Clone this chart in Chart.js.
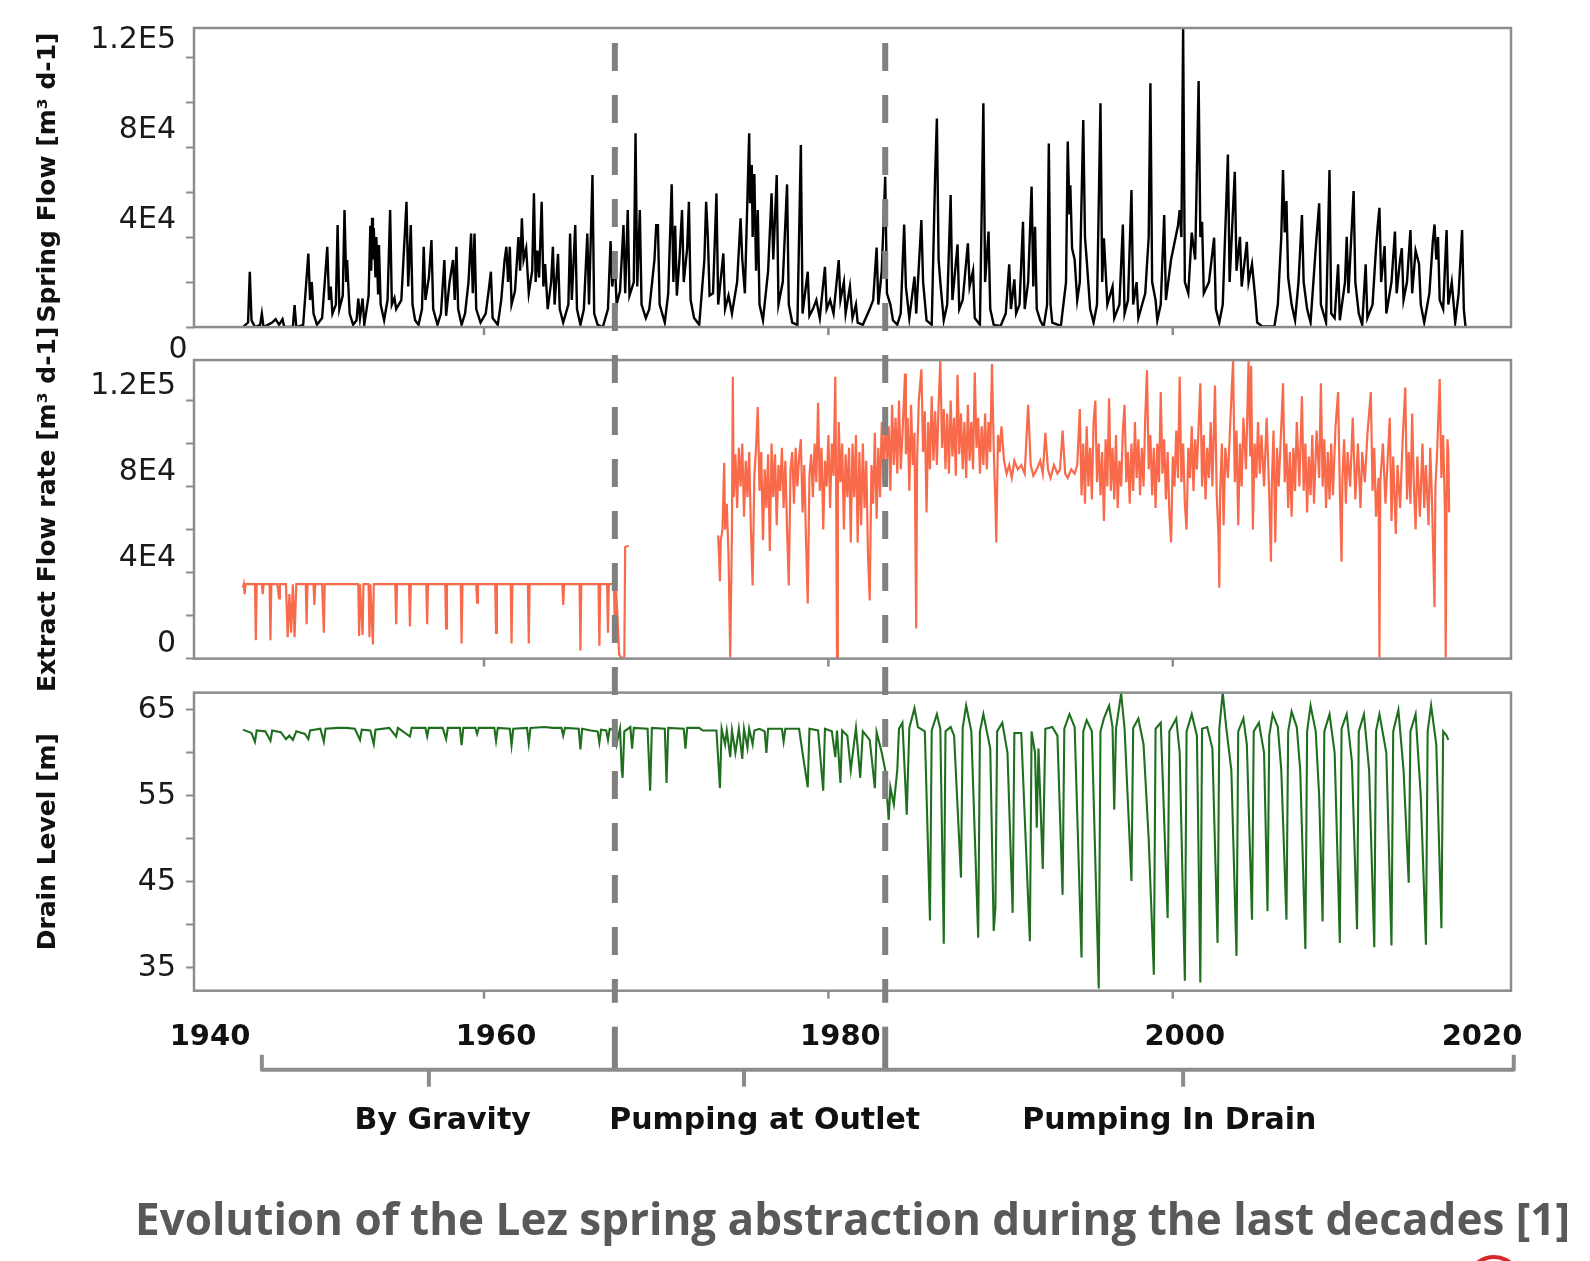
<!DOCTYPE html>
<html>
<head>
<meta charset="utf-8">
<script src="https://cdn.jsdelivr.net/npm/chart.js"></script>
<style>
  html, body { margin: 0; padding: 0; background: #fff; }
  canvas { display: block; }
</style>
</head>
<body>
<canvas id="lezChart" width="1590" height="1261"></canvas>
<script>
// spring flow, [year, thousand m3/d]
const springFlow = [
  [1946.0,0],[1946.3,2],[1946.4,24.6],[1946.5,3],[1946.7,0],[1947.0,1],[1947.1,6],[1947.2,0],[1947.7,2],[1947.9,3.5],
  [1948.1,1],[1948.3,3.5],[1948.4,0],[1948.9,0],[1949.0,9.8],[1949.1,0],[1949.5,1],[1949.8,32.7],[1949.9,12],[1950.0,20],
  [1950.1,6],[1950.3,1],[1950.6,4],[1950.8,25],[1950.9,35.7],[1951.0,12],[1951.1,18],[1951.2,6],[1951.4,10],[1951.5,45.3],
  [1951.6,8],[1951.8,14],[1951.9,52],[1952.0,20],[1952.05,29.8],[1952.2,6],[1952.4,1],[1952.6,3],[1952.7,12.7],[1952.8,4],
  [1952.95,12.7],[1953.05,1],[1953.3,14],[1953.4,45],[1953.45,25],[1953.5,48.6],[1953.55,30],[1953.6,44],[1953.7,22],[1953.75,40],
  [1953.85,15],[1953.9,36.5],[1954.0,10],[1954.2,3],[1954.4,12],[1954.55,52],[1954.65,10],[1954.8,13],[1954.9,8],[1955.2,12],
  [1955.5,55.7],[1955.6,18],[1955.75,45.3],[1955.85,10],[1956.0,3],[1956.2,1],[1956.4,8],[1956.5,35.7],[1956.6,12],[1956.8,22],
  [1956.95,38.7],[1957.05,8],[1957.3,1],[1957.5,6],[1957.7,29.8],[1957.8,5],[1958.0,20],[1958.2,29.8],[1958.3,12],[1958.4,35.7],
  [1958.5,8],[1958.7,1],[1958.9,6],[1959.1,20],[1959.25,41.6],[1959.35,15],[1959.45,41.6],[1959.55,8],[1959.8,2],[1960.1,6],
  [1960.3,18],[1960.4,24.6],[1960.5,4],[1960.8,1],[1961.0,12],[1961.2,30],[1961.3,35.7],[1961.4,20],[1961.5,35.7],[1961.6,10],
  [1961.8,16],[1962.0,40],[1962.1,25],[1962.2,48.3],[1962.3,30],[1962.45,35],[1962.6,15],[1962.8,25],[1962.9,59.4],[1963.0,20],
  [1963.1,34],[1963.2,22],[1963.35,55.7],[1963.45,18],[1963.55,28],[1963.7,8],[1963.9,20],[1964.0,35.7],[1964.1,10],[1964.3,32.5],
  [1964.4,8],[1964.6,2],[1964.9,10],[1965.0,41.6],[1965.1,12],[1965.3,45.3],[1965.4,8],[1965.6,1],[1965.8,8],[1966.0,41.6],
  [1966.1,10],[1966.3,67.6],[1966.4,6],[1966.6,1],[1966.9,0],[1967.2,8],[1967.35,38.2],[1967.45,18],[1967.6,30],[1967.7,10],
  [1967.9,16],[1968.1,45.3],[1968.2,15],[1968.35,52],[1968.45,14],[1968.7,20],[1968.8,86.1],[1968.9,18],[1969.05,52],[1969.15,10],
  [1969.4,4],[1969.6,8],[1969.9,30],[1970.0,45.3],[1970.1,45.3],[1970.2,10],[1970.5,2],[1970.7,15],[1970.9,63.4],[1971.0,20],
  [1971.1,45],[1971.2,14],[1971.35,30],[1971.5,52],[1971.6,20],[1971.8,35],[1971.9,55.7],[1972.0,12],[1972.2,4],[1972.5,1],
  [1972.8,30],[1972.9,55.7],[1973.0,40],[1973.1,14],[1973.3,15],[1973.5,59.4],[1973.6,10],[1973.9,32.7],[1974.0,8],[1974.2,14],
  [1974.4,6],[1974.7,20],[1974.9,48.3],[1975.0,30],[1975.15,15],[1975.4,86.1],[1975.45,55],[1975.55,72],[1975.6,40],[1975.7,68],
  [1975.8,25],[1975.9,52],[1976.0,10],[1976.2,3],[1976.5,25],[1976.7,59.4],[1976.8,30],[1977.0,67.6],[1977.1,10],[1977.35,20],
  [1977.6,63.4],[1977.7,10],[1977.9,2],[1978.2,1],[1978.4,80.9],[1978.5,6],[1978.8,24.6],[1978.9,5],[1979.1,8],[1979.3,12],
  [1979.5,4],[1979.8,26.8],[1979.9,8],[1980.1,12],[1980.3,6],[1980.6,29.8],[1980.7,12],[1980.9,20],[1981.0,6],[1981.25,18],
  [1981.4,4],[1981.6,10],[1981.7,2],[1982.0,1],[1982.4,8],[1982.6,12],[1982.8,35.3],[1982.9,10],[1983.1,25],[1983.3,66.8],
  [1983.4,15],[1983.6,10],[1983.75,3],[1984.0,1],[1984.2,6],[1984.4,45.6],[1984.5,18],[1984.7,4],[1985.0,22.4],[1985.1,6],
  [1985.4,47.6],[1985.5,20],[1985.7,3],[1986.0,1],[1986.2,68],[1986.3,92.7],[1986.4,30],[1986.5,20],[1986.7,3],[1986.9,10],
  [1987.1,58.7],[1987.2,12],[1987.3,20],[1987.5,36.7],[1987.6,8],[1987.8,12],[1988.1,37.2],[1988.2,18],[1988.4,25],[1988.5,4],
  [1988.8,1],[1989.0,99.4],[1989.1,20],[1989.3,42.4],[1989.4,8],[1989.6,1],[1990.0,0.5],[1990.3,6],[1990.5,27.9],[1990.6,8],
  [1990.8,21.2],[1990.9,6],[1991.1,10],[1991.3,46.8],[1991.4,8],[1991.6,20],[1991.8,62.4],[1991.9,18],[1992.0,44.6],[1992.1,8],
  [1992.3,3],[1992.5,0],[1992.7,10],[1992.8,81.6],[1992.9,10],[1993.0,2],[1993.5,0.5],[1993.8,20],[1993.9,82.4],[1994.0,50],
  [1994.05,63],[1994.15,35],[1994.3,30],[1994.45,12],[1994.6,20],[1994.8,92],[1994.9,40],[1995.0,30],[1995.2,8],[1995.4,2],
  [1995.6,10],[1995.8,99.4],[1995.9,20],[1996.0,39.4],[1996.2,10],[1996.5,18],[1996.6,4],[1996.9,10],[1997.1,45.6],[1997.2,6],
  [1997.4,12],[1997.6,60.9],[1997.7,10],[1997.9,20],[1998.0,4],[1998.4,15],[1998.6,40],[1998.7,108.3],[1998.8,20],[1999.0,12],
  [1999.1,3],[1999.3,10],[1999.5,49.8],[1999.6,12],[1999.9,30],[2000.3,45],[2000.4,52],[2000.5,40],[2000.6,132.7],[2000.7,20],
  [2000.9,15],[2001.1,42],[2001.3,30],[2001.5,109.3],[2001.6,40],[2001.7,46.8],[2001.8,15],[2002.1,20],[2002.4,39.7],[2002.5,8],
  [2002.7,2],[2002.9,10],[2003.2,76.7],[2003.3,20],[2003.6,69],[2003.7,25],[2003.9,40.1],[2004.0,18],[2004.3,37.9],[2004.4,20],
  [2004.6,28],[2004.8,12],[2004.9,2],[2005.2,0.3],[2005.9,0.3],[2006.1,10],[2006.3,40],[2006.4,69.8],[2006.5,42],[2006.6,56],
  [2006.7,22],[2006.9,10],[2007.1,3],[2007.3,20],[2007.5,49.8],[2007.6,20],[2007.8,8],[2008.0,2],[2008.3,35],[2008.5,55],
  [2008.6,10],[2008.9,2],[2009.1,69.8],[2009.2,6],[2009.4,4],[2009.6,27.9],[2009.7,3],[2010.0,20],[2010.1,40.1],[2010.2,15],
  [2010.5,60.4],[2010.6,20],[2010.8,6],[2011.0,1],[2011.2,27.9],[2011.3,4],[2011.6,10],[2011.8,35],[2011.9,45],[2012.0,53],
  [2012.1,20],[2012.3,36],[2012.4,6],[2012.7,20],[2012.9,42.4],[2013.0,15],[2013.2,30],[2013.3,35],[2013.4,12],[2013.6,20],
  [2013.8,43.1],[2013.9,15],[2014.1,34],[2014.2,31],[2014.3,28],[2014.4,10],[2014.6,2],[2014.9,15],[2015.1,38],[2015.2,45.6],
  [2015.3,30],[2015.4,40],[2015.5,12],[2015.7,8],[2015.9,43.1],[2016.0,10],[2016.2,20],[2016.4,2],[2016.6,15],[2016.8,43.1],
  [2016.9,8],[2017.0,0]
];

// extracted flow rate, [year, thousand m3/d]
const extractFlow = [
  [1946.0,33],[1946.05,34.6],[1946.1,30],[1946.15,34.6],[1946.7,34.6],[1946.75,8.5],[1946.8,34.6],[1947.1,34.6],[1947.15,30],[1947.2,34.6],
  [1947.55,34.6],[1947.6,8.5],[1947.65,34.6],[1948.0,34.6],[1948.1,28],[1948.15,34.6],[1948.5,34.6],[1948.6,10],[1948.7,30],[1948.8,12],
  [1948.9,34.6],[1949.0,10],[1949.1,34.6],[1949.65,34.6],[1949.7,16],[1949.75,34.6],[1950.1,34.6],[1950.15,25],[1950.2,34.6],[1950.6,34.6],
  [1950.7,12],[1950.75,34.6],[1952.7,34.6],[1952.75,10.5],[1952.8,34.6],[1952.95,11],[1953.0,34.6],[1953.3,34.6],[1953.35,10],[1953.4,34.6],
  [1953.55,6.6],[1953.6,34.6],[1954.85,34.6],[1954.9,16],[1954.95,34.6],[1955.65,34.6],[1955.7,15],[1955.75,34.6],[1956.65,34.6],[1956.7,16],
  [1956.75,34.6],[1957.75,34.6],[1957.8,14],[1957.85,34.6],[1958.65,34.6],[1958.7,7],[1958.75,34.6],[1959.55,34.6],[1959.6,26],[1959.65,34.6],
  [1960.65,34.6],[1960.7,12],[1960.75,34.6],[1961.55,34.6],[1961.6,7],[1961.65,34.6],[1962.55,34.6],[1962.6,7],[1962.65,34.6],[1964.55,34.6],
  [1964.6,25],[1964.65,34.6],[1965.55,34.6],[1965.6,3.8],[1965.65,34.6],[1966.65,34.6],[1966.7,6],[1966.75,34.6],[1967.15,34.6],[1967.2,12],
  [1967.25,34.6],[1967.55,34.6],[1967.6,10],[1967.65,34.6],[1967.75,20],[1967.85,2],[1968.0,0],[1968.15,1],[1968.2,51.9],[1968.4,52.5],
  [1971.0,null],
  [1973.6,57.3],[1973.65,48],[1973.7,36],[1973.75,55],[1973.85,60],[1973.95,91],[1974.0,60],[1974.1,72],[1974.2,48],[1974.3,0.5],
  [1974.4,60],[1974.45,131],[1974.5,75],[1974.6,95],[1974.7,70],[1974.8,98],[1974.9,80],[1975.0,100],[1975.1,66],[1975.2,92],
  [1975.3,75],[1975.4,96],[1975.5,60],[1975.6,34],[1975.7,85],[1975.8,98],[1975.9,117],[1976.0,78],[1976.1,96],[1976.2,55],
  [1976.3,88],[1976.4,70],[1976.5,95],[1976.6,50],[1976.7,100],[1976.8,75],[1976.9,95],[1977.0,62],[1977.1,90],[1977.2,78],
  [1977.3,98],[1977.4,70],[1977.5,92],[1977.6,60],[1977.7,34],[1977.8,88],[1977.9,96],[1978.0,72],[1978.1,98],[1978.2,80],
  [1978.3,94],[1978.4,102],[1978.5,68],[1978.6,90],[1978.7,55],[1978.8,25.6],[1978.9,85],[1979.0,95],[1979.1,75],[1979.2,100],
  [1979.3,82],[1979.4,119],[1979.5,78],[1979.6,98],[1979.7,60],[1979.8,92],[1979.9,80],[1980.0,104],[1980.1,70],[1980.2,100],
  [1980.3,85],[1980.4,131],[1980.45,80],[1980.5,0.5],[1980.55,75],[1980.6,110],[1980.7,82],[1980.8,100],[1980.9,60],[1981.0,95],
  [1981.1,75],[1981.2,98],[1981.3,54],[1981.4,100],[1981.5,75],[1981.6,104],[1981.7,54],[1981.8,96],[1981.9,62],[1982.0,100],
  [1982.1,70],[1982.2,92],[1982.3,48],[1982.4,27],[1982.5,90],[1982.6,72],[1982.7,105],[1982.8,65],[1982.9,98],[1983.0,75],
  [1983.1,110],[1983.2,82],[1983.3,114],[1983.4,92],[1983.5,108],[1983.6,78],[1983.7,118],[1983.8,90],[1983.9,112],[1984.0,86],
  [1984.1,120],[1984.2,88],[1984.3,104],[1984.45,132.5],[1984.5,95],[1984.6,112],[1984.7,78],[1984.8,118],[1984.9,90],[1985.0,105],
  [1985.1,14],[1985.15,92],[1985.25,120],[1985.4,134.5],[1985.5,96],[1985.6,115],[1985.7,68],[1985.8,110],[1985.9,88],[1986.0,122],
  [1986.1,92],[1986.2,115],[1986.3,90],[1986.4,118],[1986.5,138.7],[1986.6,98],[1986.7,116],[1986.8,88],[1986.9,114],[1987.0,86],
  [1987.1,120],[1987.2,94],[1987.3,112],[1987.4,85],[1987.5,132],[1987.6,95],[1987.7,114],[1987.8,88],[1987.9,110],[1988.0,84],
  [1988.1,118],[1988.2,92],[1988.3,110],[1988.4,88],[1988.5,133],[1988.6,98],[1988.7,112],[1988.8,86],[1988.9,108],[1989.0,90],
  [1989.1,114],[1989.2,88],[1989.3,110],[1989.4,96],[1989.5,137],[1989.6,98],[1989.7,72],[1989.75,54],[1989.85,104],[1989.95,96],
  [1990.05,108],[1990.2,92],[1990.35,86],[1990.5,90],[1990.65,84],[1990.8,92],[1991.0,88],[1991.2,90],[1991.4,86],[1991.6,118],
  [1991.75,90],[1991.9,85],[1992.1,88],[1992.3,92],[1992.45,86],[1992.6,105],[1992.75,88],[1992.9,84],[1993.1,90],[1993.3,86],
  [1993.45,88],[1993.6,106],[1993.75,86],[1993.9,84],[1994.1,88],[1994.3,86],[1994.45,90],[1994.6,116],[1994.7,76],[1994.8,100],
  [1994.9,72],[1995.0,108],[1995.1,80],[1995.2,98],[1995.3,74],[1995.4,110],[1995.5,120],[1995.6,82],[1995.7,100],[1995.8,76],
  [1995.9,96],[1996.0,64],[1996.1,102],[1996.2,80],[1996.3,121],[1996.4,78],[1996.5,98],[1996.6,74],[1996.7,104],[1996.8,70],
  [1996.9,92],[1997.0,80],[1997.1,106],[1997.2,118],[1997.3,82],[1997.4,96],[1997.5,72],[1997.6,100],[1997.7,78],[1997.8,110],
  [1997.9,84],[1998.0,102],[1998.1,76],[1998.2,98],[1998.3,80],[1998.4,112],[1998.5,134],[1998.6,88],[1998.7,104],[1998.8,76],
  [1998.9,98],[1999.0,70],[1999.1,100],[1999.2,82],[1999.3,124],[1999.4,86],[1999.5,102],[1999.6,74],[1999.7,96],[1999.8,68],
  [1999.9,54],[2000.0,94],[2000.1,80],[2000.2,106],[2000.3,84],[2000.4,131],[2000.5,82],[2000.6,100],[2000.7,72],[2000.8,60],
  [2000.9,98],[2001.0,84],[2001.1,108],[2001.2,78],[2001.3,102],[2001.4,88],[2001.6,128],[2001.7,80],[2001.8,104],[2001.9,74],
  [2002.0,98],[2002.1,84],[2002.2,110],[2002.3,80],[2002.45,127],[2002.55,76],[2002.65,58],[2002.7,33],[2002.75,78],[2002.85,100],
  [2002.95,62],[2003.05,98],[2003.2,84],[2003.35,112],[2003.5,138.7],[2003.6,82],[2003.7,106],[2003.8,62],[2003.9,100],[2004.0,80],
  [2004.1,112],[2004.25,88],[2004.4,138.3],[2004.5,94],[2004.55,136],[2004.65,60],[2004.75,100],[2004.85,84],[2004.95,110],[2005.05,86],
  [2005.15,104],[2005.3,80],[2005.45,112],[2005.6,76],[2005.7,45],[2005.75,80],[2005.85,106],[2005.95,54],[2006.05,98],[2006.15,80],
  [2006.3,108],[2006.4,128],[2006.5,82],[2006.6,100],[2006.7,70],[2006.8,96],[2006.9,66],[2007.0,98],[2007.1,78],[2007.2,110],
  [2007.35,80],[2007.5,122],[2007.6,78],[2007.7,100],[2007.8,68],[2007.9,94],[2008.0,76],[2008.1,104],[2008.2,72],[2008.35,106],
  [2008.5,84],[2008.6,128],[2008.7,80],[2008.8,102],[2008.9,70],[2009.0,96],[2009.1,74],[2009.2,100],[2009.3,76],[2009.45,108],
  [2009.6,124],[2009.7,78],[2009.8,45],[2009.85,84],[2009.95,102],[2010.05,72],[2010.15,96],[2010.3,80],[2010.45,112],[2010.6,74],
  [2010.75,100],[2010.9,70],[2011.0,96],[2011.15,82],[2011.3,104],[2011.5,124],[2011.6,78],[2011.7,98],[2011.8,66],[2011.95,84],
  [2012.0,0.5],[2012.05,82],[2012.2,100],[2012.35,72],[2012.5,96],[2012.6,112],[2012.7,64],[2012.8,94],[2012.95,58],[2013.05,90],
  [2013.2,70],[2013.35,102],[2013.5,126],[2013.6,74],[2013.7,96],[2013.8,72],[2013.9,114],[2014.0,80],[2014.1,60],[2014.2,94],
  [2014.35,66],[2014.5,100],[2014.6,70],[2014.7,90],[2014.85,62],[2014.95,98],[2015.05,74],[2015.2,24],[2015.25,80],[2015.35,96],
  [2015.5,130],[2015.6,84],[2015.7,104],[2015.8,70],[2015.85,0.5],[2015.9,72],[2015.95,102],[2016.0,96],[2016.05,68]
];

// drain level, [year, m]
const drainLevel = [
  [1946.0,62.7],[1946.5,62.3],[1946.7,61.3],[1946.8,62.6],[1947.3,62.5],[1947.6,61.4],[1947.7,62.6],[1948.2,62.4],[1948.5,61.6],[1948.7,62.0],
  [1948.9,61.5],[1949.1,62.5],[1949.6,62.2],[1949.8,61.6],[1949.9,62.6],[1950.5,62.8],[1950.7,61.3],[1950.8,62.8],[1951.5,62.9],[1952.0,62.9],
  [1952.5,62.8],[1952.8,61.5],[1952.9,62.7],[1953.4,62.6],[1953.6,61.0],[1953.7,62.7],[1954.5,62.9],[1954.9,61.9],[1955.0,62.9],[1955.7,61.9],
  [1955.8,62.9],[1956.6,62.9],[1956.7,61.9],[1956.8,62.9],[1957.6,62.9],[1957.8,61.6],[1957.9,62.9],[1958.6,62.9],[1958.7,60.9],[1958.8,62.9],
  [1959.5,62.9],[1959.6,62.2],[1959.7,62.9],[1960.6,62.9],[1960.7,61.4],[1960.8,62.9],[1961.5,62.8],[1961.6,60.9],[1961.7,62.8],[1962.5,62.9],
  [1962.6,61.1],[1962.7,62.9],[1963.5,63.0],[1964.0,62.9],[1964.5,62.9],[1964.6,62.0],[1964.7,62.9],[1965.5,62.8],[1965.6,60.4],[1965.7,62.8],
  [1966.2,62.6],[1966.6,62.5],[1966.7,61.2],[1966.8,62.7],[1967.1,62.6],[1967.2,61.5],[1967.3,62.8],[1967.6,62.6],[1967.7,61.0],[1967.9,62.8],
  [1968.0,58.0],[1968.05,57.1],[1968.15,62.5],[1968.5,63.0],[1968.6,60.5],[1968.7,62.9],[1969.5,62.8],[1969.65,55.6],[1969.75,62.9],[1970.5,62.8],
  [1970.6,56.5],[1970.7,62.9],[1971.6,62.8],[1971.7,60.5],[1971.8,62.9],[1972.5,62.9],[1972.7,62.6],[1973.5,62.6],[1973.7,55.9],[1973.8,62.8],
  [1974.0,61.0],[1974.1,62.6],[1974.3,59.5],[1974.4,62.6],[1974.6,60.0],[1974.8,62.8],[1975.0,59.3],[1975.1,62.8],[1975.3,60.6],[1975.4,62.8],
  [1975.6,61.0],[1975.7,62.6],[1976.0,62.8],[1976.3,62.5],[1976.4,60.0],[1976.5,62.8],[1977.3,62.8],[1977.4,61.3],[1977.5,62.8],[1978.3,62.8],
  [1978.5,60.0],[1978.8,56.0],[1978.9,62.8],[1979.4,62.6],[1979.7,55.6],[1979.8,62.8],[1980.2,62.5],[1980.4,59.5],[1980.5,62.6],[1980.7,56.5],
  [1980.8,62.6],[1981.1,62.0],[1981.3,58.0],[1981.6,62.9],[1981.85,57.1],[1982.0,62.5],[1982.4,61.5],[1982.7,55.9],[1982.8,62.4],[1983.1,60.0],
  [1983.3,58.0],[1983.5,52.2],[1983.6,56.0],[1983.8,54.0],[1984.0,58.0],[1984.1,62.8],[1984.3,63.5],[1984.5,55.0],[1984.55,52.8],[1984.7,62.9],
  [1985.0,65.2],[1985.2,63.0],[1985.6,62.5],[1985.9,40.5],[1986.0,62.6],[1986.3,64.5],[1986.5,62.8],[1986.7,37.8],[1986.8,62.5],[1987.1,63.0],
  [1987.3,62.0],[1987.7,45.5],[1987.8,62.9],[1988.0,65.5],[1988.3,62.5],[1988.7,38.5],[1988.8,62.5],[1989.0,64.5],[1989.4,60.5],[1989.6,39.3],
  [1989.7,42.0],[1989.8,62.5],[1990.1,63.5],[1990.4,60.0],[1990.7,41.4],[1990.8,62.3],[1991.2,62.3],[1991.7,38.1],[1991.8,62.5],[1992.0,60.0],
  [1992.1,51.3],[1992.2,60.5],[1992.45,46.5],[1992.6,62.8],[1993.0,63.0],[1993.3,62.0],[1993.6,43.5],[1993.7,62.8],[1994.0,64.5],[1994.3,63.0],
  [1994.7,36.2],[1994.8,62.5],[1995.0,63.8],[1995.3,62.5],[1995.7,32.6],[1995.8,62.5],[1996.0,64.0],[1996.3,65.5],[1996.5,63.0],[1996.6,53.4],
  [1996.7,62.8],[1997.0,66.9],[1997.2,62.8],[1997.6,45.1],[1997.7,62.9],[1998.0,64.0],[1998.3,61.0],[1998.6,50.0],[1998.9,34.2],[1999.0,62.8],
  [1999.3,63.5],[1999.7,40.8],[1999.8,62.5],[2000.2,64.0],[2000.4,60.0],[2000.7,33.5],[2000.8,62.5],[2001.1,64.5],[2001.4,62.0],[2001.6,33.3],
  [2001.7,62.8],[2002.0,63.0],[2002.3,60.5],[2002.6,37.9],[2002.7,62.8],[2002.9,67.0],[2003.1,63.0],[2003.4,58.0],[2003.7,36.4],[2003.8,62.5],
  [2004.1,64.0],[2004.3,61.0],[2004.6,40.6],[2004.7,62.5],[2005.0,63.5],[2005.3,60.0],[2005.5,41.6],[2005.6,62.0],[2005.8,64.5],[2006.1,63.0],
  [2006.3,58.0],[2006.6,40.6],[2006.7,62.5],[2006.9,64.8],[2007.2,63.0],[2007.4,58.0],[2007.7,37.2],[2007.8,62.5],[2008.0,65.5],[2008.3,62.5],
  [2008.5,55.0],[2008.7,40.4],[2008.8,62.5],[2009.1,64.5],[2009.4,60.0],[2009.7,37.9],[2009.8,62.8],[2010.1,64.5],[2010.4,59.0],[2010.7,39.5],
  [2010.8,62.5],[2011.1,64.5],[2011.4,58.0],[2011.7,37.4],[2011.8,62.5],[2012.0,64.5],[2012.4,60.0],[2012.7,37.6],[2012.8,62.5],[2013.1,65.0],
  [2013.4,58.0],[2013.7,44.9],[2013.8,62.5],[2014.1,64.5],[2014.4,55.0],[2014.7,37.7],[2014.8,62.5],[2015.0,65.5],[2015.3,61.0],[2015.6,39.6],
  [2015.7,62.5],[2015.9,62.0],[2016.0,61.5]
];

const flowTicks = [0, 20, 40, 60, 80, 100, 120];
const springTickText = ['', '', '4E4', '', '8E4', '', '1.2E5'];
const extractTickText = ['0', '', '4E4', '', '8E4', '', '1.2E5'];
const drainTicks = [35, 40, 45, 50, 55, 60, 65];
const drainTickText = ['35', '', '45', '', '55', '', '65'];
const yearMarks = [1960, 1980, 2000];
const yearLabels = [1940, 1960, 1980, 2000, 2020];
const phaseBounds = [1947.1, 1967.6, 1983.3, 2019.8];
const phaseMarks = [1956.8, 1975.1, 2000.6];
const phaseLabelAt = [1957.6, 1976.3, 1999.8];
const phaseNames = ['By Gravity', 'Pumping at Outlet', 'Pumping In Drain'];

const toXY = arr => arr.map(([x, y]) => ({ x, y }));
const frameGrey = '#8c8c8c';
const axisFont = 'DejaVu Sans';

function panelAxis(weight, stackWeight, ticks, texts, min, max, offset, title) {
  return {
    type: 'linear', position: 'left', stack: 'panels', weight, stackWeight, min, max,
    afterBuildTicks: s => { s.ticks = ticks.map(v => ({ value: v })); },
    afterFit: s => { s.width = 194; },
    grid: { drawOnChartArea: false, drawTicks: true, tickLength: 8, tickColor: frameGrey, tickWidth: 2 },
    border: { display: false },
    ticks: {
      autoSkip: false, padding: 10, labelOffset: offset, color: '#1a1a1a',
      font: { family: axisFont, size: 30 },
      callback: (v, i) => texts[i]
    },
    title: { display: true, text: title, color: '#111', padding: { top: 33, bottom: 0 },
      font: { family: axisFont, size: 25, weight: 'bold' } }
  };
}

function gapAxis(weight, stackWeight) {
  return {
    type: 'linear', position: 'left', stack: 'panels', weight, stackWeight,
    afterFit: s => { s.width = 194; },
    grid: { display: false }, border: { display: false }, ticks: { display: false }
  };
}

const decorPlugin = {
  id: 'lezDecor',
  afterDatasetsDraw(chart) {
    const { ctx, scales } = chart;
    const x = scales.x;
    const panels = [scales.ySpring, scales.yExtract, scales.yDrain];
    ctx.save();
    ctx.strokeStyle = frameGrey;
    ctx.lineWidth = 2.5;
    panels.forEach(p => {
      ctx.strokeRect(x.left, p.top, x.right - x.left, p.bottom - p.top);
      yearMarks.forEach(yr => {
        const px = x.getPixelForValue(yr);
        ctx.beginPath();
        ctx.moveTo(px, p.bottom);
        ctx.lineTo(px, p.bottom + 8);
        ctx.stroke();
      });
    });

    const base = panels[2].bottom;
    const bracketY = base + 79;

    // period separators, dashed from the top, solid where they meet the bracket
    ctx.strokeStyle = '#808080';
    ctx.lineWidth = 6;
    phaseBounds.slice(1, -1).forEach(yr => {
      const px = x.getPixelForValue(yr);
      ctx.setLineDash([28, 24]);
      ctx.beginPath();
      ctx.moveTo(px, panels[0].top + 15);
      ctx.lineTo(px, base + 12);
      ctx.stroke();
      ctx.setLineDash([]);
      ctx.beginPath();
      ctx.moveTo(px, base + 36);
      ctx.lineTo(px, bracketY);
      ctx.stroke();
    });

    // bracket under the axis
    const bx = phaseBounds.map(v => x.getPixelForValue(v));
    ctx.strokeStyle = frameGrey;
    ctx.lineWidth = 4;
    ctx.lineJoin = 'round';
    ctx.beginPath();
    ctx.moveTo(bx[0], bracketY - 15);
    ctx.lineTo(bx[0], bracketY);
    ctx.lineTo(bx[3], bracketY);
    ctx.lineTo(bx[3], bracketY - 15);
    ctx.stroke();
    phaseMarks.forEach(yr => {
      const px = x.getPixelForValue(yr);
      ctx.beginPath();
      ctx.moveTo(px, bracketY);
      ctx.lineTo(px, bracketY + 17);
      ctx.stroke();
    });

    // year labels
    ctx.fillStyle = '#111';
    ctx.textAlign = 'center';
    ctx.textBaseline = 'middle';
    ctx.font = `bold 29px "${axisFont}"`;
    yearLabels.forEach(yr => {
      let px = x.getPixelForValue(yr) + 12;
      px = Math.min(Math.max(px, x.left + 16), x.right - 29);
      ctx.fillText(String(yr), px, base + 47);
    });

    ctx.font = `bold 30px "${axisFont}"`;
    phaseNames.forEach((name, i) => {
      ctx.fillText(name, x.getPixelForValue(phaseLabelAt[i]), base + 131);
    });

    // zero of the spring flow axis sits under the panel
    ctx.font = `30px "${axisFont}"`;
    ctx.fillStyle = '#1a1a1a';
    ctx.fillText('0', x.left - 16, scales.ySpring.getPixelForValue(0) + 23);

    // cut-off red mark in the bottom corner
    ctx.strokeStyle = '#d42a2a';
    ctx.lineWidth = 4;
    ctx.beginPath();
    ctx.arc(x.right - 17, chart.height + 22, 26, Math.PI * 1.15, Math.PI * 1.85);
    ctx.stroke();
    ctx.restore();
  }
};

new Chart(document.getElementById('lezChart').getContext('2d'), {
  type: 'line',
  data: {
    datasets: [
      { label: 'Spring Flow', data: toXY(springFlow), yAxisID: 'ySpring', borderColor: '#000', borderWidth: 2.4 },
      { label: 'Extract Flow rate', data: toXY(extractFlow), yAxisID: 'yExtract', borderColor: '#f96a4b', borderWidth: 2.2 },
      { label: 'Drain Level', data: toXY(drainLevel), yAxisID: 'yDrain', borderColor: '#1f6f1f', borderWidth: 2.1 }
    ]
  },
  options: {
    responsive: false,
    animation: false,
    spanGaps: false,
    elements: { point: { radius: 0 }, line: { tension: 0 } },
    layout: { padding: { top: 28, right: 20, left: 0, bottom: 0 } },
    plugins: {
      legend: { display: false },
      tooltip: { enabled: false },
      title: {
        display: true,
        position: 'bottom',
        align: 'end',
        text: 'Evolution of the Lez spring abstraction during the last decades [1]',
        color: '#595959',
        font: { family: 'Open Sans', size: 44, weight: 'bold' },
        padding: { top: 197, bottom: 12.5 }
      }
    },
    scales: {
      x: {
        type: 'linear', position: 'bottom', min: 1943.16, max: 2019.64,
        afterFit: s => { s.height = 8; },
        grid: { display: false }, border: { display: false }, ticks: { display: false }
      },
      ySpring: panelAxis(5, 299, flowTicks, springTickText, 0, 132.9, -17, 'Spring Flow [m³ d-1]'),
      gapA: gapAxis(4, 33),
      yExtract: panelAxis(3, 298.5, flowTicks, extractTickText, 0, 138.8, -14, 'Extract Flow rate [m³ d-1]'),
      gapB: gapAxis(2, 34),
      yDrain: panelAxis(1, 298, drainTicks, drainTickText, 32.35, 67.0, 0, 'Drain Level [m]'),
      yRight: {
        type: 'linear', position: 'right',
        afterFit: s => { s.width = 59; },
        grid: { display: false }, border: { display: false }, ticks: { display: false }
      }
    }
  },
  plugins: [decorPlugin]
});
</script>
</body>
</html>
